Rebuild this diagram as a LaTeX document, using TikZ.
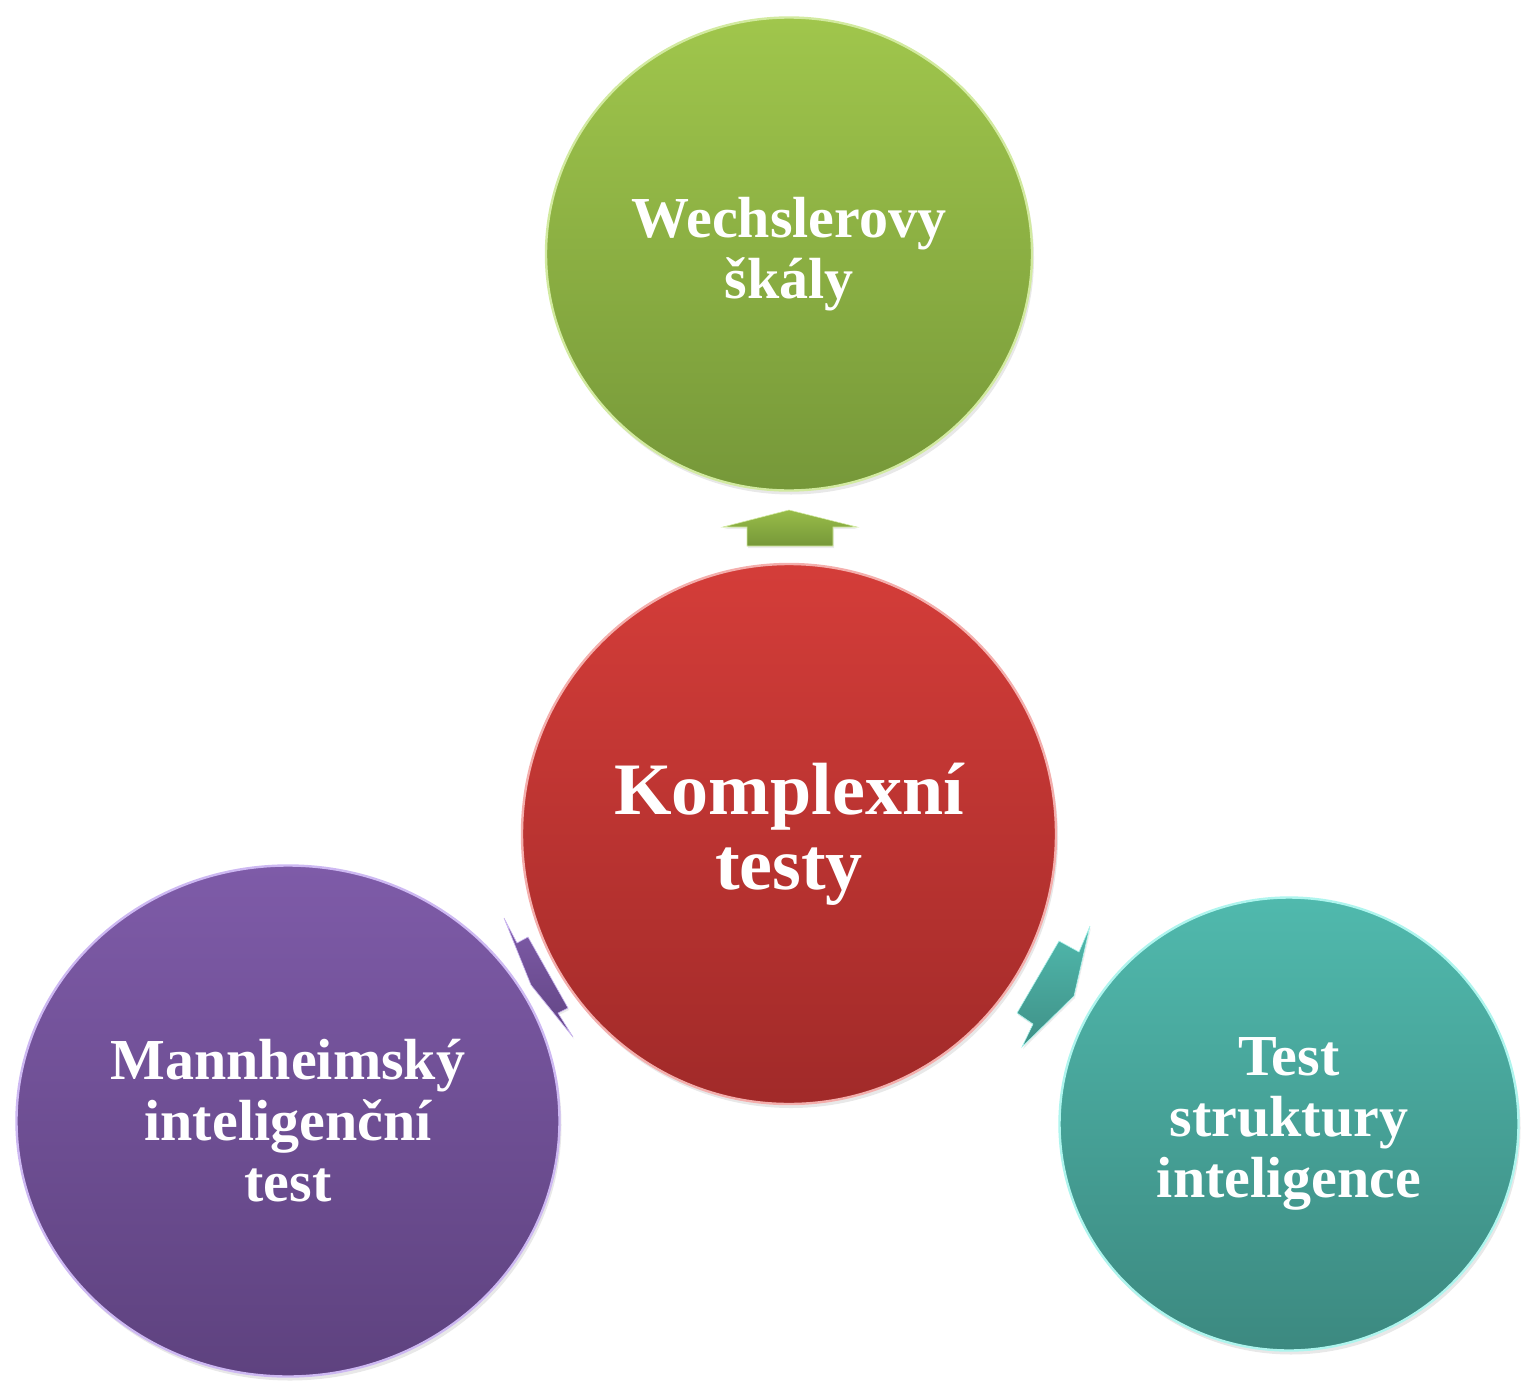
\documentclass[tikz,border=0pt]{standalone}
\usepackage{fontspec}
\setmainfont{Liberation Serif}
\usetikzlibrary{shapes.geometric,shadows}
\definecolor{gTop}{HTML}{A0C64C}
\definecolor{gBot}{HTML}{769839}
\definecolor{gRim}{HTML}{D2EAA0}
\definecolor{rTop}{HTML}{D43D39}
\definecolor{rBot}{HTML}{A12A29}
\definecolor{rRim}{HTML}{F4AEAC}
\definecolor{pTop}{HTML}{7E5BA8}
\definecolor{pBot}{HTML}{5E427F}
\definecolor{pRim}{HTML}{CDB8F2}
\definecolor{tTop}{HTML}{50B9AD}
\definecolor{tBot}{HTML}{3C8980}
\definecolor{tRim}{HTML}{AEF5EE}
\begin{document}
\begin{tikzpicture}[x=1pt,y=-1pt,
  bubble/.style={ellipse, inner sep=0pt, align=center, text=white,
    font=\bfseries\fontsize{58}{61}\selectfont, line width=2.4pt,
    drop shadow={opacity=0.18, shadow xshift=2pt, shadow yshift=-4pt}},
  blockarrow/.style={line width=0.6pt, drop shadow={opacity=0.15, shadow xshift=1pt, shadow yshift=-2pt}}]
\useasboundingbox (0,0) rectangle (1521,1381);
% outer bubbles
\node[bubble, minimum width=486pt, minimum height=473pt, top color=gTop, bottom color=gBot, draw=gRim]
  (wech) at (789,254) {Wechslerovy\\škály};
\node[bubble, minimum width=543pt, minimum height=511pt, top color=pTop, bottom color=pBot, draw=pRim]
  (mann) at (288,1121) {Mannheimský\\inteligenční\\test};
\node[bubble, minimum width=459pt, minimum height=453pt, top color=tTop, bottom color=tBot, draw=tRim]
  (tsi) at (1289,1124) {Test\\struktury\\inteligence};
% centre bubble
\node[bubble, minimum width=534pt, minimum height=540pt, top color=rTop, bottom color=rBot, draw=rRim,
  font=\bfseries\fontsize{74}{75}\selectfont]
  (kompl) at (789,834) {Komplexní\\testy};
% block arrows
\draw[blockarrow, top color=gTop!95!black, bottom color=gBot, draw=gRim]
  (747,546) -- (747,527) -- (723,527) -- (789,510) -- (857,527) -- (833,527) -- (833,546) -- cycle;
\draw[blockarrow, top color=pTop, bottom color=pBot!90!pTop, draw=pRim]
  (504,918) -- (517,943) -- (528,937) -- (568,1008) -- (558,1013) -- (573,1037) -- (531,985) -- cycle;
\draw[blockarrow, top color=tTop, bottom color=tBot!85!tTop, draw=tRim]
  (1059,941) -- (1079,952) -- (1090,926) -- (1074,996) -- (1022,1047) -- (1033,1024) -- (1017,1013) -- cycle;
\end{tikzpicture}
\end{document}
